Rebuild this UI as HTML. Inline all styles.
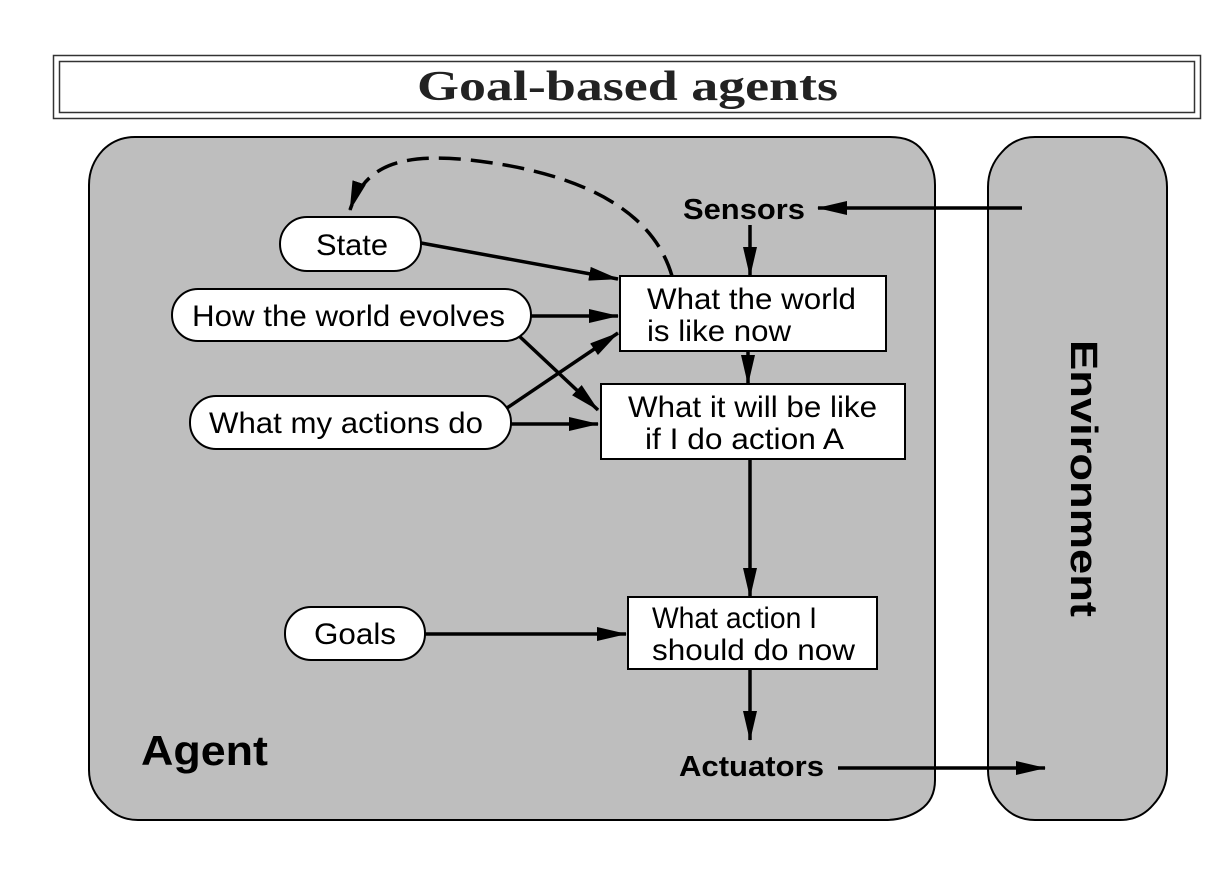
<!DOCTYPE html>
<html><head><meta charset="utf-8"><style>
html,body{margin:0;padding:0;background:#fff;}
svg{display:block;}
text{font-family:"Liberation Sans",sans-serif;}
</style></head><body>
<svg width="1216" height="873" viewBox="0 0 1216 873" xmlns="http://www.w3.org/2000/svg">
<defs>
<marker id="b" viewBox="0 0 30 14" refX="29" refY="7" markerWidth="30" markerHeight="14" orient="auto" markerUnits="userSpaceOnUse">
<path d="M0,0 L30,7 L0,14 Z" fill="#000"/></marker>
</defs>
<rect x="53.5" y="55.5" width="1147" height="63" fill="#fff" stroke="#333" stroke-width="1.5"/>
<rect x="59.5" y="61.5" width="1135" height="51" fill="none" stroke="#333" stroke-width="1.5"/>
<text x="417" y="100" font-size="42" font-weight="bold" fill="#222" textLength="421" lengthAdjust="spacingAndGlyphs" style="font-family:'Liberation Serif',serif">Goal-based agents</text>

<path d="M135,137 L890,137 Q912,137 922,150 Q935,165 935,185 L935,780 Q935,800 920,810 Q905,820 885,820 L138,820 Q118,820 105,805 Q89,790 89,770 L89,185 Q89,165 103,150 Q116,137 135,137 Z" fill="#bebebe" stroke="#000" stroke-width="2"/>
<path d="M1035,137 L1120,137 Q1140,137 1153,152 Q1167,167 1167,187 L1167,770 Q1167,790 1153,805 Q1140,820 1120,820 L1035,820 Q1015,820 1002,805 Q988,790 988,770 L988,187 Q988,167 1002,152 Q1015,137 1035,137 Z" fill="#bebebe" stroke="#000" stroke-width="2"/>
<text x="1071" y="340" font-size="38" font-weight="bold" transform="rotate(90 1071 340)" textLength="277" lengthAdjust="spacingAndGlyphs">Environment</text>
<text x="141" y="765" font-size="42" font-weight="bold" textLength="127" lengthAdjust="spacingAndGlyphs">Agent</text>

<g stroke="#000" stroke-width="3.5" fill="none">
<line x1="1022" y1="208" x2="818" y2="208" marker-end="url(#b)"/>
<line x1="750" y1="225" x2="750" y2="276" marker-end="url(#b)"/>
<line x1="421" y1="243" x2="618" y2="279" marker-end="url(#b)"/>
<line x1="531" y1="316" x2="618" y2="316" marker-end="url(#b)"/>
<line x1="507" y1="408" x2="618" y2="333" marker-end="url(#b)"/>
<line x1="517" y1="334" x2="598" y2="410" marker-end="url(#b)"/>
<line x1="511" y1="424" x2="598" y2="424" marker-end="url(#b)"/>
<line x1="748" y1="351" x2="748" y2="384" marker-end="url(#b)"/>
<line x1="750" y1="459" x2="750" y2="597" marker-end="url(#b)"/>
<line x1="425" y1="634" x2="626" y2="634" marker-end="url(#b)"/>
<line x1="750" y1="669" x2="750" y2="740" marker-end="url(#b)"/>
<line x1="838" y1="768" x2="1045" y2="768" marker-end="url(#b)"/>
<path d="M672,276 C650,200 560,170 470,160 C400,153 365,165 350,210" stroke-dasharray="22,10" marker-end="url(#b)"/>
</g>

<text x="683" y="219" font-size="29" font-weight="bold" textLength="122" lengthAdjust="spacingAndGlyphs">Sensors</text>
<text x="679" y="776" font-size="29" font-weight="bold" textLength="145" lengthAdjust="spacingAndGlyphs">Actuators</text>

<g stroke="#000" stroke-width="2" fill="#fff">
<rect x="620" y="276" width="266" height="75"/>
<rect x="601" y="384" width="304" height="75"/>
<rect x="628" y="597" width="249" height="72"/>
<rect x="280" y="217" width="141" height="54" rx="27"/>
<rect x="172" y="289" width="359" height="52" rx="26"/>
<rect x="190" y="396" width="321" height="53" rx="26"/>
<rect x="285" y="607" width="140" height="53" rx="26"/>
</g>
<g font-size="30" fill="#000">
<text x="647" y="309" textLength="209" lengthAdjust="spacingAndGlyphs">What the world</text>
<text x="647" y="341" textLength="144" lengthAdjust="spacingAndGlyphs">is like now</text>
<text x="628" y="417" textLength="249" lengthAdjust="spacingAndGlyphs">What it will be like</text>
<text x="645" y="449" textLength="199" lengthAdjust="spacingAndGlyphs">if I do action A</text>
<text x="652" y="628" textLength="165" lengthAdjust="spacingAndGlyphs">What action I</text>
<text x="652" y="660" textLength="203" lengthAdjust="spacingAndGlyphs">should do now</text>
<text x="316" y="255" textLength="72" lengthAdjust="spacingAndGlyphs">State</text>
<text x="192" y="326" textLength="313" lengthAdjust="spacingAndGlyphs">How the world evolves</text>
<text x="209" y="433" textLength="274" lengthAdjust="spacingAndGlyphs">What my actions do</text>
<text x="314" y="644" textLength="82" lengthAdjust="spacingAndGlyphs">Goals</text>
</g>
</svg>
</body></html>
